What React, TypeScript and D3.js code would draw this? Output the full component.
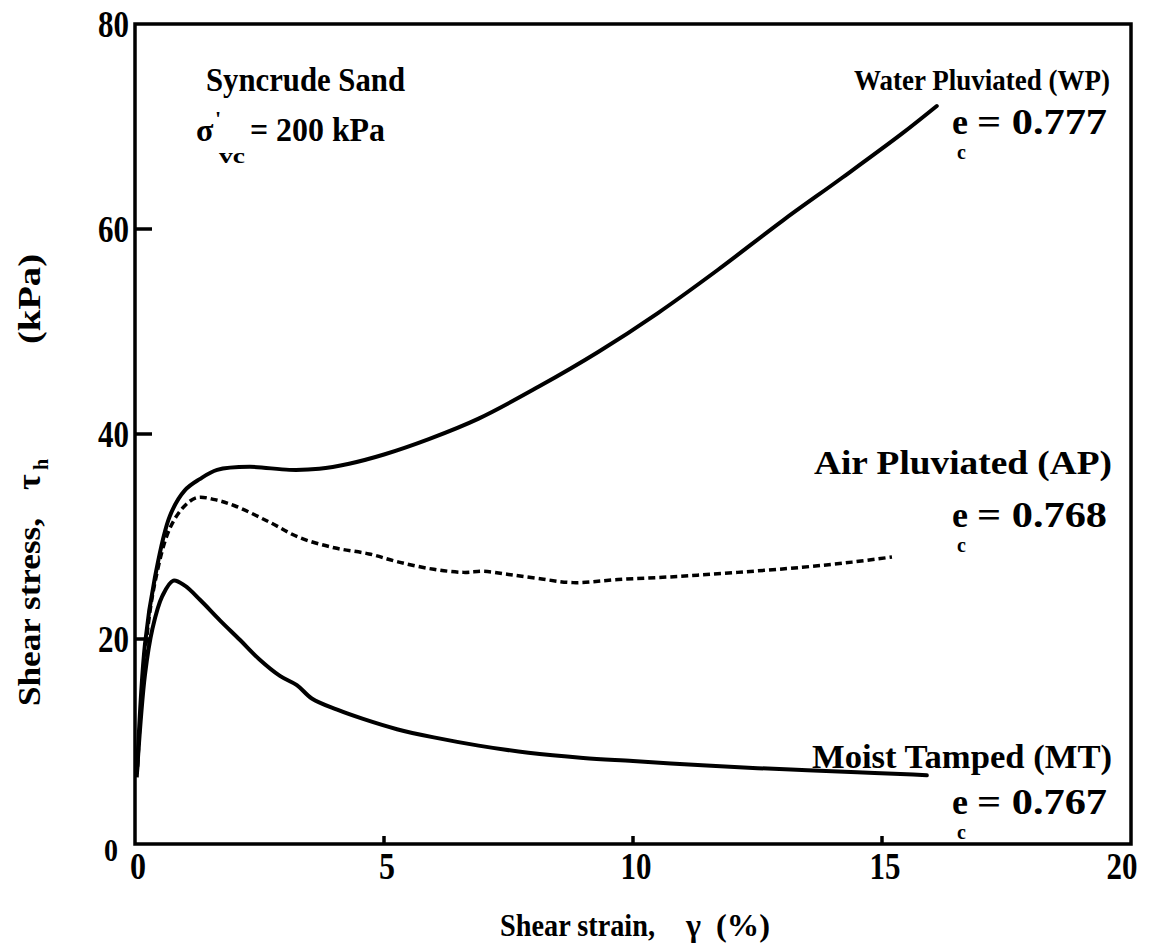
import React from "react";
import * as d3 from "d3";

const xTicks = [0, 5, 10, 15, 20];
const yTicks = [0, 20, 40, 60, 80];

const wpStrain = [0.04, 0.2, 0.4, 0.7, 1.0, 1.3, 1.65, 2.3, 3.1, 3.7, 4.3, 5.0, 5.9, 6.9, 8.1, 9.3, 10.5, 11.7, 13.0, 14.2, 15.4, 16.1];
const wpStress = [7, 19.5, 26, 32, 34.5, 35.6, 36.5, 36.8, 36.5, 36.6, 37.1, 38.0, 39.5, 41.5, 44.6, 48.0, 51.8, 56.0, 60.8, 65.0, 69.3, 72.0];

const apStrain = [0.04, 0.2, 0.4, 0.7, 1.0, 1.25, 1.6, 2.0, 2.7, 3.3, 4.0, 4.7, 5.3, 6.0, 6.6, 7.0, 7.5, 8.1, 8.8, 9.7, 10.9, 12.1, 13.4, 14.4, 15.2];
const apStress = [6.5, 18.5, 25.5, 30.8, 33.0, 33.8, 33.6, 33.0, 31.4, 29.9, 28.9, 28.3, 27.5, 26.8, 26.5, 26.6, 26.3, 25.9, 25.5, 25.8, 26.1, 26.5, 27.0, 27.5, 28.0];

const mtStrain = [0.04, 0.2, 0.35, 0.55, 0.77, 1.0, 1.31, 1.71, 2.11, 2.5, 2.91, 3.25, 3.55, 4.06, 4.58, 5.26, 6.0, 6.9, 7.9, 9.0, 10.0, 11.3, 12.5, 13.5, 14.5, 15.5, 15.9];
const mtStress = [7, 16.5, 21, 24.2, 25.7, 25.2, 23.8, 21.8, 19.9, 18.0, 16.4, 15.5, 14.2, 13.1, 12.2, 11.2, 10.4, 9.6, 8.9, 8.4, 8.1, 7.7, 7.4, 7.2, 7.0, 6.8, 6.7];

const W = 1157;
const H = 949;
const left = 135;
const right = 1131;
const top = 24;
const bottom = 844;

const FONT = "'Liberation Serif', 'Times New Roman', serif";

export default function App() {
  const x = d3.scaleLinear().domain([0, 20]).range([left, right]);
  const y = d3.scaleLinear().domain([0, 80]).range([bottom, top]);
  const line = d3
    .line<[number, number]>()
    .x((d) => x(d[0]))
    .y((d) => y(d[1]))
    .curve(d3.curveCatmullRom.alpha(0.5));

  const wp = wpStrain.map((s, i) => [s, wpStress[i]] as [number, number]);
  const ap = apStrain.map((s, i) => [s, apStress[i]] as [number, number]);
  const mt = mtStrain.map((s, i) => [s, mtStress[i]] as [number, number]);

  const txt = { fontFamily: FONT, fontWeight: 700, fill: "#000" } as const;
  const LA = "spacingAndGlyphs";

  const ecLabel = (key: string, xPos: number, yBase: number, value: string) => (
    <g key={key}>
      <text x={xPos} y={yBase} fontSize={36} {...txt}>e</text>
      <text x={xPos + 5} y={yBase + 25} fontSize={20} {...txt}>c</text>
      <text x={xPos + 25} y={yBase} fontSize={36} textLength={130} lengthAdjust={LA} {...txt}>
        {"= " + value}
      </text>
    </g>
  );

  return (
    <svg
      width={W}
      height={H}
      style={{ position: "absolute", left: 0, top: 0, background: "#fff" }}
    >
      <rect x={0} y={0} width={W} height={H} fill="#fff" />
      {/* frame */}
      <rect
        x={left}
        y={top}
        width={right - left}
        height={bottom - top}
        fill="none"
        stroke="#000"
        strokeWidth={3.5}
      />
      {/* ticks */}
      {yTicks.slice(1, -1).map((t) => (
        <line key={"yt" + t} x1={left} x2={left + 17} y1={y(t)} y2={y(t)} stroke="#000" strokeWidth={3.5} />
      ))}
      {xTicks.slice(1, -1).map((t) => (
        <line key={"xt" + t} x1={x(t)} x2={x(t)} y1={bottom} y2={bottom - 8} stroke="#000" strokeWidth={3.5} />
      ))}
      {/* y tick labels */}
      {yTicks.map((t) => (
        <text
          key={"yl" + t}
          x={left - (t === 0 ? 17 : 6)}
          y={y(t) + 13 + (t === 0 ? 4 : 0)}
          textAnchor="end"
          fontSize={t === 0 ? 32 : 37}
          textLength={t === 0 ? 14 : 31}
          lengthAdjust={LA}
          {...txt}
        >
          {t}
        </text>
      ))}
      {/* x tick labels */}
      {xTicks.map((t) => (
        <text
          key={"xl" + t}
          x={x(t) + (t === 20 ? -9 : 3)}
          y={bottom + 35}
          textAnchor="middle"
          fontSize={37}
          textLength={t < 10 ? 16 : 31}
          lengthAdjust={LA}
          {...txt}
        >
          {t}
        </text>
      ))}
      {/* x axis title */}
      <text x={500} y={936} fontSize={32} textLength={155} lengthAdjust={LA} {...txt}>
        Shear strain,
      </text>
      <text x={686} y={936} fontSize={32} {...txt}>
        γ
      </text>
      <text x={716} y={936} fontSize={32} textLength={54} lengthAdjust={LA} {...txt}>
        (%)
      </text>
      {/* y axis title */}
      <g transform="translate(40, 0)">
        <text transform="translate(0, 706) rotate(-90)" fontSize={32} textLength={188} lengthAdjust={LA} {...txt}>
          Shear stress,
        </text>
        <text transform="translate(0, 490) rotate(-90)" fontSize={34} {...txt}>
          τ
        </text>
        <text transform="translate(8, 470) rotate(-90)" fontSize={20} {...txt}>
          h
        </text>
        <text transform="translate(0, 344) rotate(-90)" fontSize={32} textLength={90} lengthAdjust={LA} {...txt}>
          (kPa)
        </text>
      </g>

      {/* curves */}
      <path d={line(wp) || ""} fill="none" stroke="#000" strokeWidth={4} strokeLinejoin="round" strokeLinecap="round" />
      <path d={line(mt) || ""} fill="none" stroke="#000" strokeWidth={4} strokeLinejoin="round" strokeLinecap="round" />
      <path d={line(ap) || ""} fill="none" stroke="#000" strokeWidth={3.5} strokeDasharray="7,4" strokeLinejoin="round" />

      {/* annotations */}
      <text x={206} y={91} fontSize={34} textLength={199} lengthAdjust={LA} {...txt}>
        Syncrude Sand
      </text>
      <text x={196} y={141} fontSize={32} {...txt}>σ</text>
      <text x={215} y={126} fontSize={22} {...txt}>'</text>
      <text x={219} y={163} fontSize={22} textLength={26} lengthAdjust={LA} {...txt}>vc</text>
      <text x={250} y={141} fontSize={34} textLength={135} lengthAdjust={LA} {...txt}>
        = 200 kPa
      </text>

      <text x={1110} y={90} textAnchor="end" fontSize={30} textLength={256} lengthAdjust={LA} {...txt}>
        Water Pluviated (WP)
      </text>
      {ecLabel("wp", 952, 134, "0.777")}

      <text x={1112} y={474} textAnchor="end" fontSize={33} textLength={298} lengthAdjust={LA} {...txt}>
        Air Pluviated (AP)
      </text>
      {ecLabel("ap", 952, 527, "0.768")}

      <text x={1112} y={768} textAnchor="end" fontSize={33} textLength={300} lengthAdjust={LA} {...txt}>
        Moist Tamped (MT)
      </text>
      {ecLabel("mt", 952, 814, "0.767")}
    </svg>
  );
}
